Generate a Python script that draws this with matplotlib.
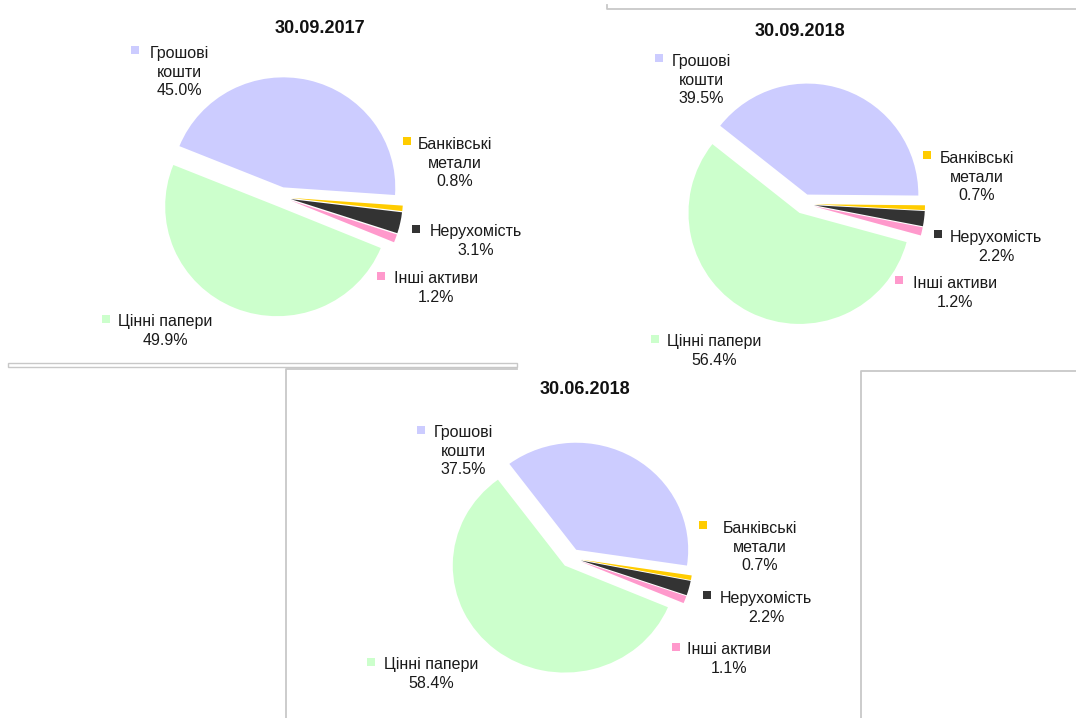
import matplotlib.pyplot as plt
from matplotlib.patches import Rectangle

plt.rcParams['font.family'] = ['Liberation Sans', 'DejaVu Sans']

W, H = 1076, 718

# slice order: clockwise from the start angle, as in the original charts
categories = ['Банківські\nметали', 'Нерухомість', 'Інші активи', 'Цінні папери', 'Грошові\nкошти']
colors = ['#FFCC00', '#333333', '#FF99CC', '#CCFFCC', '#CCCCFF']

dates = ['30.09.2017', '30.09.2018', '30.06.2018']
share_2017_09 = [0.8, 3.1, 1.2, 49.9, 45.0]
share_2018_09 = [0.7, 2.2, 1.2, 56.4, 39.5]
share_2018_06 = [0.7, 2.2, 1.1, 58.4, 37.5]
shares = [share_2017_09, share_2018_09, share_2018_06]

# layout in pixels of the output image: pie centre, radii, start angle, title
pie_centers = [(281, 197), (804, 204), (571, 558)]
pie_radii = [(112, 110), (111, 111), (112, 107)]
start_angles = [-4, -0.5, -8.5]
title_pos = [(320, 27), (800, 30), (585, 388)]

# label layout: (square x, square y, text centre x, first line centre y)
label_pos = [
    [(407, 141, 455, 143), (416, 229, 476, 230), (381, 276, 436, 277),
     (106, 319, 165, 320), (135, 50, 179, 52)],
    [(927, 155, 977, 157), (938, 234, 996, 236), (899, 280, 955, 282),
     (655, 339, 714, 340), (659, 58, 701, 60)],
    [(703, 525, 760, 527), (707, 595, 766, 597), (676, 647, 729, 648),
     (371, 662, 431, 663), (421, 430, 463, 431)],
]

fig = plt.figure(figsize=(W / 100, H / 100), dpi=100)

k = 1.3
for vals, (cx, cy), (rx, ry), st in zip(shares, pie_centers, pie_radii, start_angles):
    ax = fig.add_axes([(cx - k * rx) / W, 1 - (cy + k * ry) / H, 2 * k * rx / W, 2 * k * ry / H])
    ax.pie(vals, colors=colors, explode=[0.09] * len(vals), startangle=st,
           counterclock=False, wedgeprops=dict(linewidth=0))
    ax.set_xlim(-k, k)
    ax.set_ylim(-k, k)
    ax.set_aspect('auto')
    ax.axis('off')

# overlay in pixel coordinates for texts and the screenshot borders
bg = fig.add_axes([0, 0, 1, 1], zorder=5)
bg.set_xlim(0, W)
bg.set_ylim(H, 0)
bg.axis('off')
bg.patch.set_alpha(0)

grey = '#c8c8c8'
bg.add_patch(Rectangle((8, 363), 509, 3.5, facecolor='white', edgecolor=grey, lw=1))
bg.plot([286, 286, 517], [718, 369, 369], color=grey, lw=1.3)
bg.plot([861, 861, 1076], [718, 371, 371], color=grey, lw=1.3)
bg.plot([607, 607, 1076], [5, 9, 9], color=grey, lw=1.3)

step = 18.7
for i, vals in enumerate(shares):
    tx, ty = title_pos[i]
    bg.text(tx, ty + 6, dates[i], ha='center', va='baseline', fontsize=13,
            fontweight='bold', color='#111111')
    for j, v in enumerate(vals):
        sx, sy, lx, ly = label_pos[i][j]
        bg.plot(sx, sy, marker='s', markersize=5.5, color=colors[j], markeredgewidth=0)
        lines = categories[j].split('\n') + ['%.1f%%' % v]
        for n, line in enumerate(lines):
            bg.text(lx, ly + n * step + 6, line, ha='center', va='baseline',
                    fontsize=11.5, color='#1a1a1a')

fig.savefig('out.png', dpi=100)
